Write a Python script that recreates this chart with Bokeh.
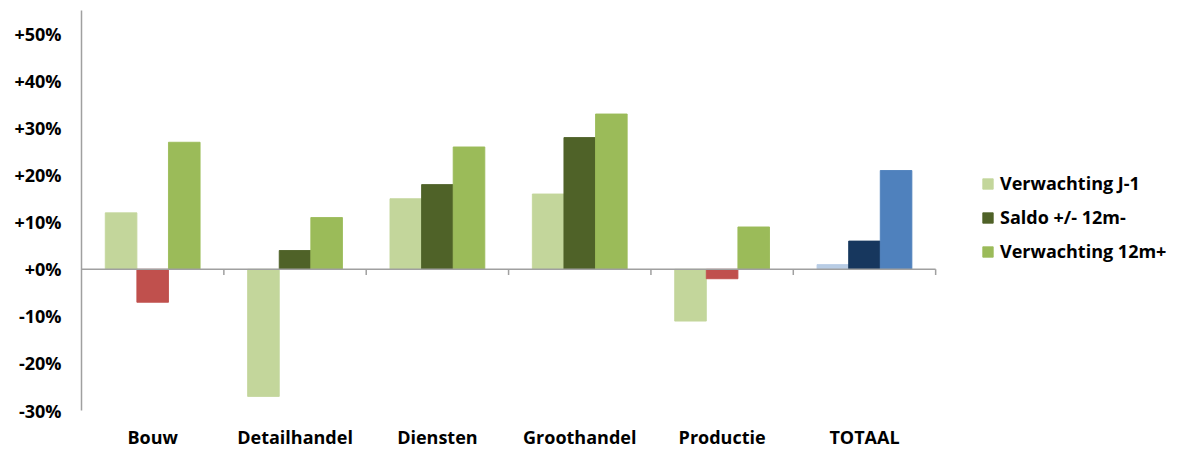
from bokeh.plotting import figure
from bokeh.models import ColumnDataSource, FixedTicker, Legend, LegendItem, Range1d
from bokeh.embed import file_html
from bokeh.resources import INLINE

categories = ["Bouw", "Detailhandel", "Diensten", "Groothandel", "Productie", "TOTAAL"]
verwachting_j1 = [12, -27, 15, 16, -11, 1]
saldo_12m = [-7, 4, 18, 28, -2, 6]
verwachting_12m = [27, 11, 26, 33, 9, 21]
series_names = ["Verwachting J-1", "Saldo +/- 12m-", "Verwachting 12m+"]
y_ticks = [-30, -20, -10, 0, 10, 20, 30, 40, 50]
y_tick_labels = ["-30%", "-20%", "-10%", "+0%", "+10%", "+20%", "+30%", "+40%", "+50%"]

FONT = "Open Sans"
n = len(categories)
centers = [i + 0.5 for i in range(n)]
bw = 0.222

p = figure(width=1180, height=451, output_backend="svg", toolbar_location=None,
           x_range=Range1d(0, 7.72), y_range=Range1d(-30, 55),
           min_border_left=81, min_border_right=0, min_border_top=10, min_border_bottom=41)
p.outline_line_color = None
p.grid.visible = False
p.background_fill_color = "white"

def colors_j1():
    return ["#B9CDE5" if c == "TOTAAL" else "#C3D69B" for c in categories]

def colors_saldo():
    out = []
    for c, v in zip(categories, saldo_12m):
        if c == "TOTAAL":
            out.append("#17375E")
        elif v < 0:
            out.append("#C0504D")
        else:
            out.append("#4F6228")
    return out

def colors_12m():
    return ["#4F81BD" if c == "TOTAAL" else "#9BBB59" for c in categories]

renderers = []
for k, (vals, cols) in enumerate([(verwachting_j1, colors_j1()),
                                  (saldo_12m, colors_saldo()),
                                  (verwachting_12m, colors_12m())]):
    src = ColumnDataSource(dict(x=[c + (k - 1) * bw for c in centers], top=vals, color=cols))
    r = p.vbar(x="x", width=bw, top="top", bottom=0, source=src,
               fill_color="color", line_color="color", line_alpha=0.9)
    renderers.append(r)

# zero line with category separator ticks
p.segment(x0=[0], y0=[0], x1=[n], y1=[0], line_color="#A0A0A0", line_width=1.5)
tick_x = [i + 1 for i in range(n)]
p.segment(x0=tick_x, y0=[0] * n, x1=tick_x, y1=[-1.2] * n, line_color="#A0A0A0", line_width=1.5)

# y axis
ya = p.yaxis[0]
ya.ticker = FixedTicker(ticks=y_ticks)
ya.major_label_overrides = {t: l for t, l in zip(y_ticks, y_tick_labels)}
ya.axis_line_color = "#A0A0A0"
ya.axis_line_width = 1.5
ya.major_tick_line_color = None
ya.minor_tick_line_color = None
ya.major_tick_out = 0
ya.minor_tick_out = 0
ya.major_label_standoff = 20
ya.major_label_text_font = FONT
ya.major_label_text_font_style = "bold"
ya.major_label_text_font_size = "18px"
ya.major_label_text_color = "#000000"

# x axis (category labels)
xa = p.xaxis[0]
xa.ticker = FixedTicker(ticks=centers)
xa.major_label_overrides = {c: l for c, l in zip(centers, categories)}
xa.axis_line_color = None
xa.major_tick_line_color = None
xa.minor_tick_line_color = None
xa.major_tick_out = 0
xa.minor_tick_out = 0
xa.major_label_standoff = 14
xa.major_label_text_font = FONT
xa.major_label_text_font_style = "bold"
xa.major_label_text_font_size = "18px"
xa.major_label_text_color = "#000000"

legend = Legend(items=[
    LegendItem(label=series_names[0], renderers=[renderers[0]], index=0),
    LegendItem(label=series_names[1], renderers=[renderers[1]], index=1),
    LegendItem(label=series_names[2], renderers=[renderers[2]], index=0),
], location=(900, 147), padding=0, spacing=10, glyph_width=13, glyph_height=13,
    label_standoff=6, label_height=20, border_line_color=None,
    background_fill_alpha=0,
    label_text_font=FONT, label_text_font_style="bold", label_text_font_size="18px",
    label_text_color="#000000")
p.add_layout(legend)

open("out.html", "w").write(file_html(p, INLINE))
